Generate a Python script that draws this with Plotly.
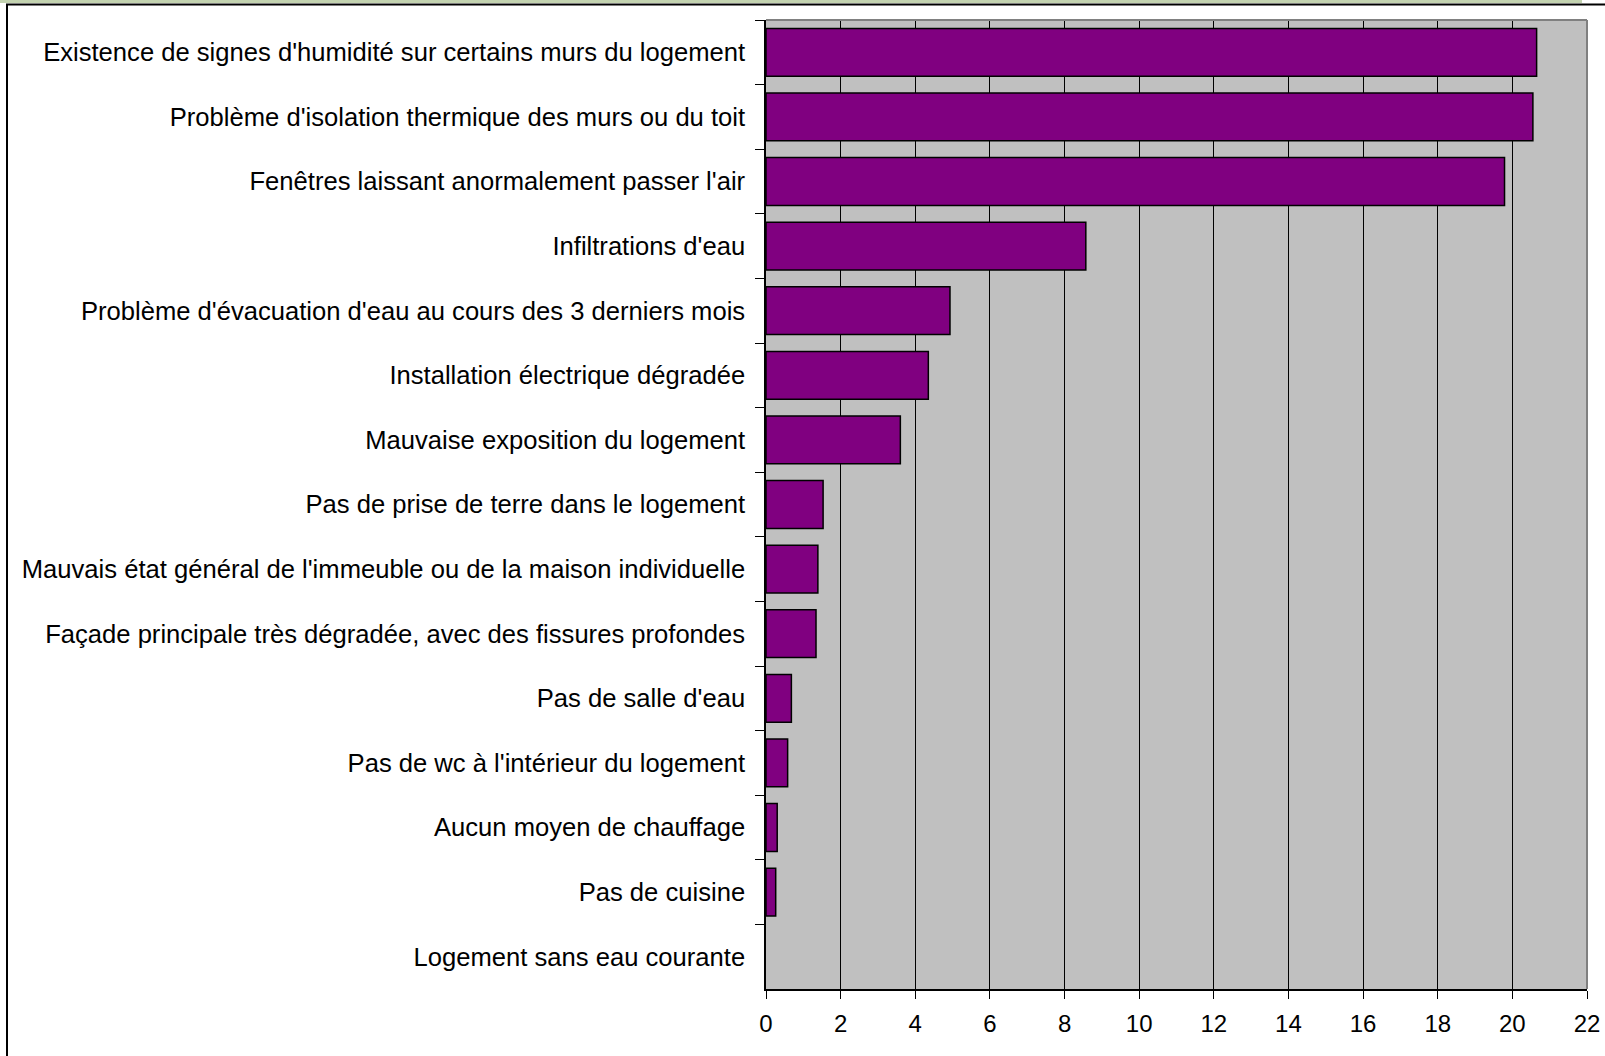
import plotly.graph_objects as go

categories = [
    "Existence de signes d'humidité sur certains murs du logement",
    "Problème d'isolation thermique des murs ou du toit",
    "Fenêtres laissant anormalement passer l'air",
    "Infiltrations d'eau",
    "Problème d'évacuation d'eau au cours des 3 derniers mois",
    "Installation électrique dégradée",
    "Mauvaise exposition du logement",
    "Pas de prise de terre dans le logement",
    "Mauvais état général de l'immeuble ou de la maison individuelle",
    "Façade principale très dégradée, avec des fissures profondes",
    "Pas de salle d'eau",
    "Pas de wc à l'intérieur du logement",
    "Aucun moyen de chauffage",
    "Pas de cuisine",
    "Logement sans eau courante",
]
values = [20.65, 20.55, 19.79, 8.57, 4.93, 4.35, 3.6, 1.53, 1.39, 1.34, 0.68, 0.58, 0.30, 0.26, 0.0]
x_ticks = list(range(0, 23, 2))

W, H = 1605, 1056
L, R, T, B = 766, 18, 20, 67
pw, ph = W - L - R, H - T - B

def px_x(p):
    return (p - L) / pw

def px_y(p):
    return 1 - (p - T) / ph

fig = go.Figure(go.Bar(
    x=values, y=categories, orientation="h",
    marker=dict(color="#800080",
                line=dict(color="black", width=[1.5 if v > 0 else 0 for v in values])),
    hoverinfo="x+y",
))

font = "Liberation Sans, Arial, sans-serif"
fig.update_layout(
    width=W, height=H,
    margin=dict(l=L, r=R, t=T, b=B, autoexpand=False),
    paper_bgcolor="white", plot_bgcolor="#C0C0C0",
    bargap=0.26, showlegend=False,
    font=dict(family=font, size=25.6, color="black"),
    xaxis=dict(range=[0, 22], tickvals=x_ticks, ticks="outside", ticklen=8,
               tickcolor="black", showgrid=True, gridcolor="black", gridwidth=1,
               zeroline=False, showline=True, linecolor="black", linewidth=1.5,
               tickfont=dict(size=24), ticklabelstandoff=4, fixedrange=True),
    yaxis=dict(categoryorder="array", categoryarray=categories, autorange="reversed",
               ticks="outside", ticklen=9, tickcolor="black", tickson="boundaries",
               showgrid=False, showline=True, linecolor="black", linewidth=1.5,
               ticklabelstandoff=14, tickfont=dict(size=25.6), fixedrange=True),
    shapes=[
        dict(type="line", xref="paper", yref="paper", x0=0, x1=1, y0=1, y1=1,
             line=dict(color="#808080", width=2), layer="above"),
        dict(type="line", xref="paper", yref="paper", x0=1, x1=1, y0=0, y1=1,
             line=dict(color="#808080", width=2), layer="above"),
        dict(type="rect", xref="paper", yref="paper",
             x0=px_x(7), x1=px_x(1620), y0=px_y(1070), y1=px_y(4.5),
             line=dict(color="black", width=2), layer="above"),
        dict(type="line", xref="paper", yref="paper",
             x0=px_x(0), x1=px_x(1582), y0=px_y(1.5), y1=px_y(1.5),
             line=dict(color="#c3d3b0", width=3), layer="above"),
    ],
)

fig.write_html(
    "out.html",
    config={"displayModeBar": False},
    post_script="document.body.style.margin='0';document.body.style.overflow='hidden';",
)
